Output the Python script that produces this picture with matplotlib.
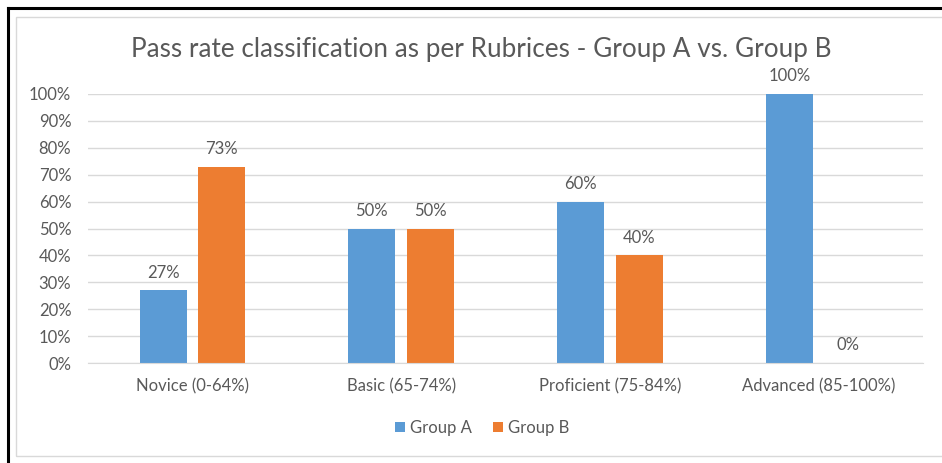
import numpy as np
import matplotlib

matplotlib.use("Agg")
import matplotlib.pyplot as plt
from matplotlib.lines import Line2D
from matplotlib.patches import Rectangle

categories = ["Novice (0-64%)", "Basic (65-74%)", "Proficient (75-84%)", "Advanced (85-100%)"]
group_a = [27, 50, 60, 100]
group_b = [73, 50, 40, 0]
series_names = ["Group A", "Group B"]
title = "Pass rate classification as per Rubrices - Group A vs. Group B"

BLUE = "#5B9BD5"
ORANGE = "#ED7D31"
TEXT = "#595959"
GRID = "#D9D9D9"

plt.rcParams["font.family"] = ["Lato", "DejaVu Sans"]

W, H = 942, 463
fig = plt.figure(figsize=(W / 100, H / 100), dpi=100)

# outer black frame (top and left) and inner grey chart border
fig.add_artist(Line2D([8 / W, 1], [1 - 8 / H, 1 - 8 / H], color="black", lw=2.2))
fig.add_artist(Line2D([8 / W, 8 / W], [0, 1 - 8 / H], color="black", lw=2.2))
fig.add_artist(Rectangle((16 / W, 1 - 456 / H), 1, (456 - 17) / H, fill=False,
                         edgecolor="#D9D9D9", lw=1.0))

ax = fig.add_axes([88 / W, 1 - 363 / H, 835 / W, 269 / H])
x = np.arange(len(categories))
w = 0.225
off = 0.14
bars_a = ax.bar(x - off, group_a, w, color=BLUE, label=series_names[0])
bars_b = ax.bar(x + off, group_b, w, color=ORANGE, label=series_names[1])

for bars in (bars_a, bars_b):
    for b in bars:
        h = b.get_height()
        ax.annotate("%d%%" % h, (b.get_x() + b.get_width() / 2, h),
                    xytext=(0, 7), textcoords="offset points",
                    ha="center", va="bottom", fontsize=12, color=TEXT)

ax.set_xlim(-0.5, len(categories) - 0.5)
ax.set_ylim(0, 100)
ax.set_yticks(range(0, 101, 10))
ax.set_yticklabels(["%d%%" % v for v in range(0, 101, 10)])
ax.set_xticks(x)
ax.set_xticklabels(categories)
ax.tick_params(axis="both", length=0, labelsize=12, colors=TEXT)
ax.tick_params(axis="y", pad=12)
ax.tick_params(axis="x", pad=11)
ax.yaxis.grid(True, color=GRID, lw=1)
ax.set_axisbelow(True)
for s in ("top", "right", "left"):
    ax.spines[s].set_visible(False)
ax.spines["bottom"].set_color(GRID)

fig.text(481 / W, 1 - 49 / H, title, ha="center", va="center", fontsize=18.8, color=TEXT)

fig.legend(handles=[bars_a, bars_b], labels=series_names, loc="center",
           bbox_to_anchor=(482 / W, 1 - 428 / H), ncol=2, frameon=False,
           fontsize=12, labelcolor=TEXT, handlelength=0.6, handleheight=0.6,
           handletextpad=0.3, columnspacing=1.3)

fig.savefig("out.png", dpi=100, facecolor="white")
